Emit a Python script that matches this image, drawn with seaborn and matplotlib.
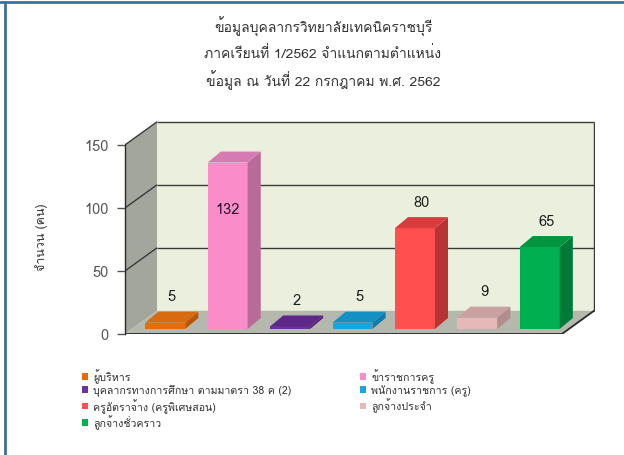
import numpy as np
import pandas as pd
import seaborn as sns
import matplotlib
matplotlib.use("Agg")
import matplotlib.pyplot as plt
from matplotlib.patches import Polygon, Patch
from matplotlib.lines import Line2D
from matplotlib import font_manager
from matplotlib.ft2font import FT2Font

# ---------------- data ----------------
categories = [
    "ผู้บริหาร",
    "ข้าราชการครู",
    "บุคลากรทางการศึกษา ตามมาตรา 38 ค (2)",
    "พนักงานราชการ (ครู)",
    "ครูอัตราจ้าง (ครูพิเศษสอน)",
    "ลูกจ้างประจำ",
    "ลูกจ้างชั่วคราว",
]
values = [5, 132, 2, 5, 80, 9, 65]
front_colors = ["#E46C0A", "#F98CC9", "#7030A0", "#17A6E0", "#FF4F4F", "#E6B9B8", "#00B050"]
side_colors = ["#B55508", "#B86A98", "#4E2070", "#0F7BA8", "#B83434", "#B08E8D", "#007A38"]
top_colors = ["#D86A10", "#D67AB4", "#5E2888", "#1590C4", "#D83C3C", "#C9A2A1", "#00953F"]
yticks = [0, 50, 100, 150]
title_lines = [
    "ข้อมูลบุคลากรวิทยาลัยเทคนิคราชบุรี",
    "ภาคเรียนที่ 1/2562 จำแนกตามตำแหน่ง",
    "ข้อมูล ณ วันที่ 22 กรกฎาคม พ.ศ. 2562",
]
ylabel = "จำนวน (คน)"

# ---------------- fonts ----------------
thai_fonts = []
for f in font_manager.fontManager.ttflist:
    try:
        if 0x0E01 in FT2Font(f.fname).get_charmap():
            if f.name not in thai_fonts:
                thai_fonts.append(f.name)
    except Exception:
        pass
preferred = [n for n in ["Loma", "Garuda", "Tlwg Typo", "Anuphan"] if n in thai_fonts]
thai_family = preferred[:1] or thai_fonts[:1]

sns.set_theme(style="white")
plt.rcParams["font.family"] = thai_family + ["DejaVu Sans"]

# ---------------- geometry (data units) ----------------
FRONT_DX, FRONT_DY = -0.145, -4.0      # front plane relative to bar plane
BACK_DX, BACK_DY = 0.37, 14.4          # back plane relative to bar plane
BAR_DX, BAR_DY = 0.21, 8.7             # bar depth
XL, XR = -0.5, 6.5
YTOP = 150

fig = plt.figure(figsize=(6.24, 4.56), dpi=100)
ax = fig.add_axes([125 / 624, 121 / 456, 470.3 / 624, 214.2 / 456])
ax.set_facecolor("none")

df = pd.DataFrame({"cat": categories, "val": values})
sns.barplot(data=df, x="cat", y="val", hue="cat", palette=front_colors,
            width=0.64, legend=False, ax=ax, zorder=3, linewidth=0, saturation=1)
bars = [p for p in ax.patches if p.get_zorder() == 3]

ax.set_xlim(XL + FRONT_DX, XR + BACK_DX + 0.02)
ax.set_ylim(FRONT_DY, YTOP + BACK_DY + 1.5)

# walls
fx0, fx1 = XL + FRONT_DX, XR + FRONT_DX
bx0, bx1 = XL + BACK_DX, XR + BACK_DX
fy0, by0 = FRONT_DY, BACK_DY
ax.add_patch(Polygon([(fx0, fy0), (fx0, YTOP + fy0), (bx0, YTOP + by0), (bx0, by0)],
                     closed=True, facecolor="#A3A69C", edgecolor="none", zorder=0.5))
ax.add_patch(Polygon([(bx0, by0), (bx0, YTOP + by0), (bx1, YTOP + by0), (bx1, by0)],
                     closed=True, facecolor="#EAF0DD", edgecolor="none", zorder=0.5))
ax.add_patch(Polygon([(fx0, fy0), (fx1, fy0), (bx1, by0), (bx0, by0)],
                     closed=True, facecolor="#B5B8AC", edgecolor="none", zorder=0.6))
gl = dict(color="#3A3A3A", lw=1.0, zorder=0.7, solid_capstyle="butt")
for t in yticks[1:]:
    ax.plot([fx0, bx0], [t + fy0, t + by0], **gl)
    ax.plot([bx0, bx1], [t + by0, t + by0], **gl)
ax.plot([bx1, bx1], [by0, YTOP + by0], **gl)
ax.plot([fx0, fx1, bx1], [fy0, fy0, by0], color="#2A2A2A", lw=1.3, zorder=0.8)

# 3D bar faces derived from the seaborn bars
for i, p in enumerate(bars):
    x0, w, h = p.get_x(), p.get_width(), p.get_height()
    x1 = x0 + w
    ax.add_patch(Polygon([(x1, 0), (x1 + BAR_DX, BAR_DY), (x1 + BAR_DX, h + BAR_DY), (x1, h)],
                         closed=True, facecolor=side_colors[i], edgecolor="none", zorder=3))
    ax.add_patch(Polygon([(x0, h), (x1, h), (x1 + BAR_DX, h + BAR_DY), (x0 + BAR_DX, h + BAR_DY)],
                         closed=True, facecolor=top_colors[i], edgecolor="none", zorder=3))
    cx = x0 + w / 2
    if h + 25 > YTOP:
        ax.text(cx, h - 37, f"{values[i]}", ha="center", va="center", fontsize=10.5,
                color="#2A102A", zorder=5)
    else:
        ax.text(cx + BAR_DX / 2, h + 21, f"{values[i]}", ha="center", va="center",
                fontsize=10.5, color="#1E1E1E", zorder=5)

# axes styling
for s in ["top", "right", "bottom"]:
    ax.spines[s].set_visible(False)
ax.spines["left"].set_visible(True)
ax.spines["left"].set_color("#2A2A2A")
ax.spines["left"].set_linewidth(1.0)
ax.spines["left"].set_bounds(fy0, YTOP + fy0)
ax.set_yticks([t + fy0 for t in yticks])
ax.set_yticklabels([str(t) for t in yticks])
ax.tick_params(axis="y", length=6, width=1, color="#555555", labelcolor="#555555",
               labelsize=10.5, pad=6, left=True)
ax.set_xticks([])
ax.set_xlabel("")
ax.set_ylabel("")

# title and y label
for k, line in enumerate(title_lines):
    fig.text(323 / 624, 1 - (27 + 26.5 * k) / 456, line, ha="center", va="center",
             fontsize=10, color="#333333")
fig.text(42 / 624, 1 - 237 / 456, ylabel, ha="center", va="center", rotation=90,
         fontsize=9, color="#333333")

# legend
order = [0, 2, 4, 6, 1, 3, 5]
handles = [Patch(facecolor=front_colors[i], edgecolor="none") for i in order]
labels = [categories[i] for i in order]
fig.legend(handles, labels, ncol=2, loc="upper left", bbox_to_anchor=(82 / 624, 1 - 369 / 456),
           frameon=False, fontsize=7.6, handlelength=0.6, handleheight=0.6,
           handletextpad=0.45, labelspacing=0.17, columnspacing=6.5, borderaxespad=0,
           borderpad=0, labelcolor="#2E2E2E")

# frame lines
fig.add_artist(Line2D([0, 1], [1 - 3 / 456, 1 - 3 / 456], color="#3F6F9F", lw=2))
fig.add_artist(Line2D([5 / 624, 5 / 624], [0, 1 - 3 / 456], color="#3F6F9F", lw=2))

fig.savefig("out.png", dpi=100)
